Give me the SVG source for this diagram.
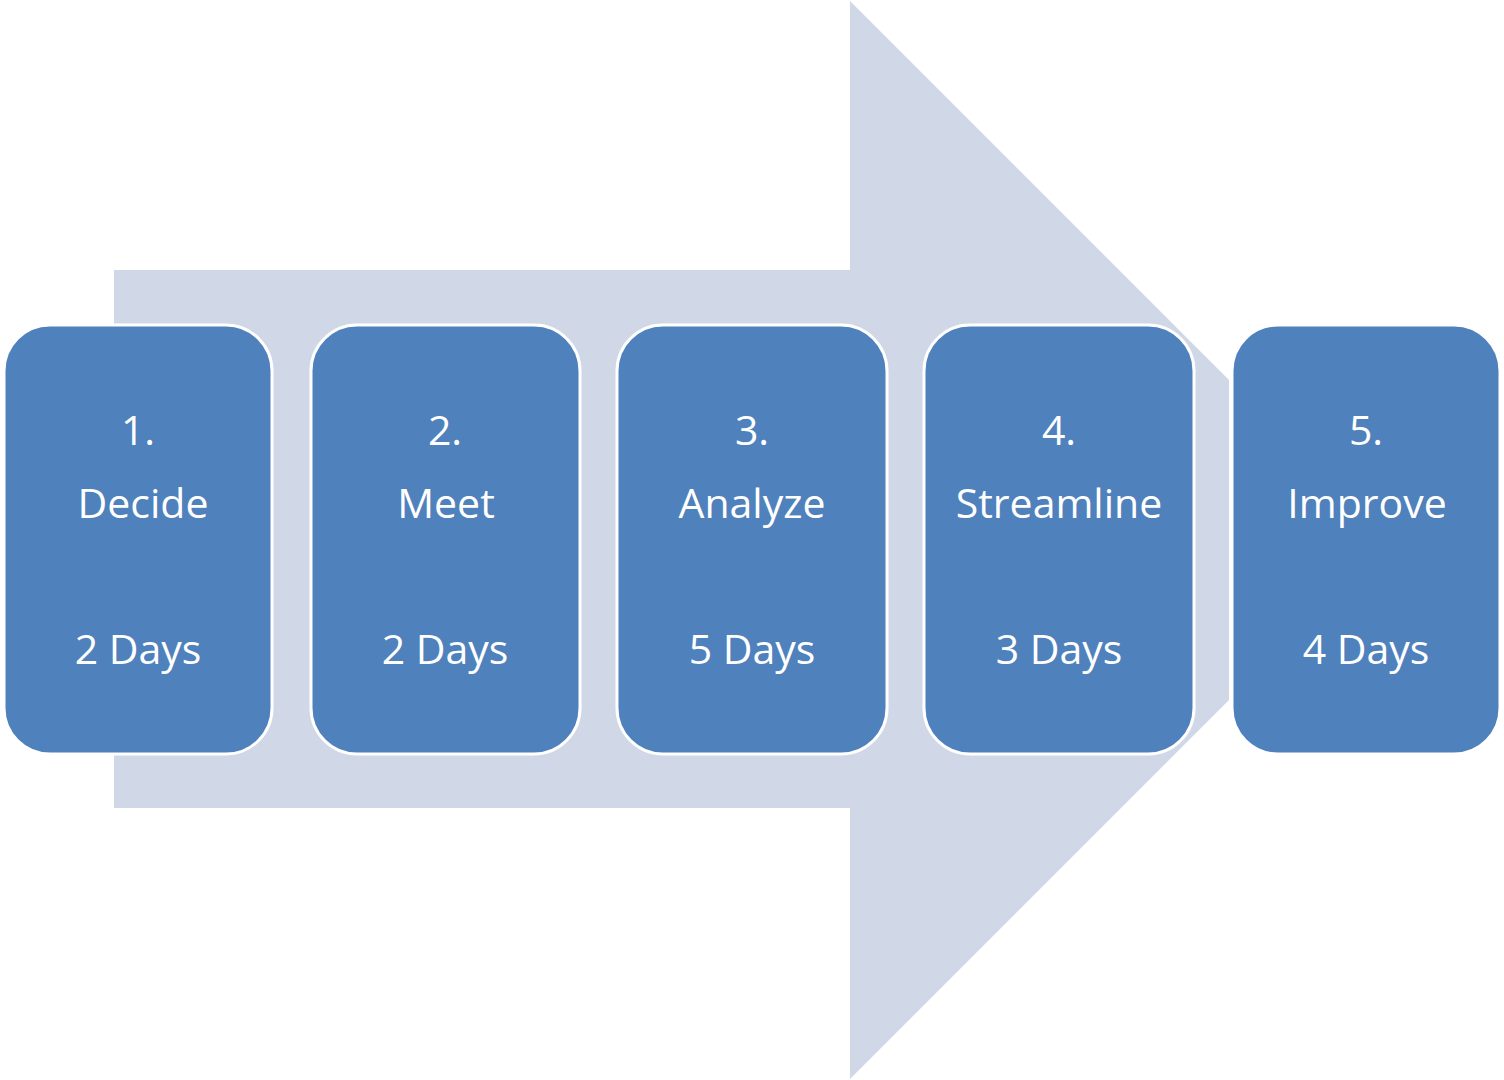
<svg xmlns="http://www.w3.org/2000/svg" width="1504" height="1080" viewBox="0 0 1504 1080">
<style>
.box{fill:#4F81BD;stroke:#FFFFFF;stroke-width:3}
.t{font-family:"Open Sans","Noto Sans","Liberation Sans",sans-serif;font-size:41px;fill:#FFFFFF;text-anchor:middle}
</style>
<rect width="1504" height="1080" fill="#FFFFFF"/>
<g id="arrow">
<polygon points="114,270 850,270 850,1 1229,380 1229,700 850,1079 850,808 114,808" fill="#D0D8E8"/>
</g>
<g id="node1">
<rect class="box" x="4" y="325" width="268" height="429" rx="46"/>
<text class="t" x="138" y="445">1.</text>
<text class="t" x="143" y="518">Decide</text>
<text class="t" x="138" y="664">2 Days</text>
</g>
<g id="node2">
<rect class="box" x="311" y="325" width="269" height="429" rx="46"/>
<text class="t" x="445" y="445">2.</text>
<text class="t" x="446" y="518">Meet</text>
<text class="t" x="445" y="664">2 Days</text>
</g>
<g id="node3">
<rect class="box" x="617" y="325" width="270" height="429" rx="46"/>
<text class="t" x="752" y="445">3.</text>
<text class="t" x="752" y="518">Analyze</text>
<text class="t" x="752" y="664">5 Days</text>
</g>
<g id="node4">
<rect class="box" x="924" y="325" width="270" height="429" rx="46"/>
<text class="t" x="1059" y="445">4.</text>
<text class="t" x="1059" y="518">Streamline</text>
<text class="t" x="1059" y="664">3 Days</text>
</g>
<g id="node5">
<rect class="box" x="1232" y="325" width="268" height="429" rx="46"/>
<text class="t" x="1366" y="445">5.</text>
<text class="t" x="1367" y="518">Improve</text>
<text class="t" x="1366" y="664">4 Days</text>
</g>
<g id="connectors"></g>
</svg>
